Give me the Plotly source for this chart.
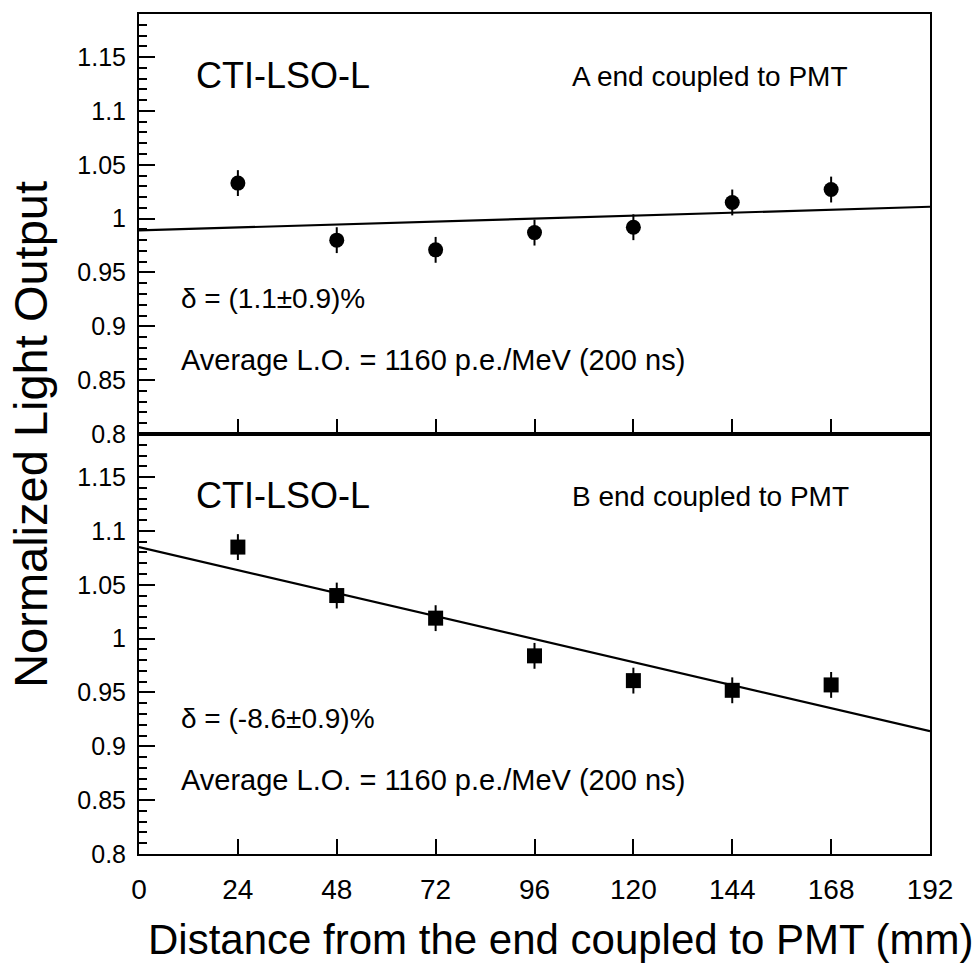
import plotly.graph_objects as go

# ---- data ----
distance = [24, 48, 72, 96, 120, 144, 168]
lo_a_end = [1.033, 0.980, 0.971, 0.987, 0.992, 1.015, 1.027]
err_a_end = [0.012, 0.012, 0.012, 0.012, 0.012, 0.012, 0.012]
lo_b_end = [1.085, 1.040, 1.019, 0.984, 0.961, 0.952, 0.957]
err_b_end = [0.012, 0.012, 0.012, 0.012, 0.012, 0.012, 0.012]
fit_x = [0, 192]
fit_a_end = [0.989, 1.011]
fit_b_end = [1.085, 0.914]
x_ticks = [0, 24, 48, 72, 96, 120, 144, 168, 192]
y_ticks = [0.8, 0.85, 0.9, 0.95, 1.0, 1.05, 1.1, 1.15]
y_tick_text = ["0.8", "0.85", "0.9", "0.95", "1", "1.05", "1.1", "1.15"]
label_a = ["CTI-LSO-L", "A end coupled to PMT", "δ = (1.1±0.9)%", "Average L.O. = 1160 p.e./MeV (200 ns)"]
label_b = ["CTI-LSO-L", "B end coupled to PMT", "δ = (-8.6±0.9)%", "Average L.O. = 1160 p.e./MeV (200 ns)"]

FONT = "Liberation Sans, Arial, Helvetica, sans-serif"

fig = go.Figure()

# top panel
fig.add_trace(go.Scatter(x=fit_x, y=fit_a_end, mode="lines", line=dict(color="black", width=2.2),
                         xaxis="x", yaxis="y", showlegend=False))
fig.add_trace(go.Scatter(x=distance, y=lo_a_end, mode="markers",
                         marker=dict(symbol="circle", size=15, color="black"),
                         error_y=dict(type="data", array=err_a_end, visible=True, color="black", thickness=2, width=0),
                         xaxis="x", yaxis="y", showlegend=False))
# bottom panel
fig.add_trace(go.Scatter(x=fit_x, y=fit_b_end, mode="lines", line=dict(color="black", width=2.2),
                         xaxis="x2", yaxis="y2", showlegend=False))
fig.add_trace(go.Scatter(x=distance, y=lo_b_end, mode="markers",
                         marker=dict(symbol="square", size=15, color="black"),
                         error_y=dict(type="data", array=err_b_end, visible=True, color="black", thickness=2, width=0),
                         xaxis="x2", yaxis="y2", showlegend=False))

common_x = dict(range=[0, 192], tickmode="array", tickvals=x_ticks, ticks="inside", ticklen=15,
                tickwidth=1.5, tickcolor="black", showline=True, linewidth=2, linecolor="black",
                mirror=True, showgrid=False, zeroline=False, fixedrange=True)
common_y = dict(range=[0.8, 1.19], tickmode="array", tickvals=y_ticks, ticktext=y_tick_text,
                ticks="inside", ticklen=16, tickwidth=1.5, tickcolor="black",
                minor=dict(ticks="inside", ticklen=8, tickwidth=1.5, tickcolor="black", dtick=0.01, tick0=0.8,
                           showgrid=False),
                showline=True, linewidth=2, linecolor="black", mirror=True, showgrid=False, zeroline=False,
                tickfont=dict(size=25, color="black", family=FONT), ticklabelstandoff=6)

annotations = []
for labels, xr, yr in [(label_a, "x", "y"), (label_b, "x2", "y2")]:
    annotations += [
        dict(text=labels[0], x=13.4, y=1.133, xref=xr, yref=yr, xanchor="left", yanchor="middle",
             showarrow=False, font=dict(size=36, color="black", family=FONT)),
        dict(text=labels[1], x=104.5, y=1.132, xref=xr, yref=yr, xanchor="left", yanchor="middle",
             showarrow=False, font=dict(size=28, color="black", family=FONT)),
        dict(text=labels[2], x=9.8, y=0.926, xref=xr, yref=yr, xanchor="left", yanchor="middle",
             showarrow=False, font=dict(size=28, color="black", family=FONT)),
        dict(text=labels[3], x=9.8, y=0.869, xref=xr, yref=yr, xanchor="left", yanchor="middle",
             showarrow=False, font=dict(size=29, color="black", family=FONT)),
    ]
annotations.append(dict(text="Normalized Light Output", x=-0.138, y=0.5, xref="paper", yref="paper",
                        xanchor="center", yanchor="middle", textangle=-90, showarrow=False,
                        font=dict(size=47, color="black", family=FONT)))
annotations.append(dict(text="Distance from the end coupled to PMT (mm)", x=0.5335, y=-0.102,
                        xref="paper", yref="paper", xanchor="center", yanchor="middle", showarrow=False,
                        font=dict(size=42, color="black", family=FONT)))

fig.update_layout(
    width=977, height=970,
    margin=dict(l=139, r=47, t=12, b=116),
    paper_bgcolor="white", plot_bgcolor="white",
    font=dict(family=FONT, color="black"),
    xaxis=dict(common_x, anchor="y", domain=[0, 1], showticklabels=False),
    yaxis=dict(common_y, anchor="x", domain=[0.5, 1]),
    xaxis2=dict(common_x, anchor="y2", domain=[0, 1], showticklabels=True,
                tickfont=dict(size=28, color="black", family=FONT), ticklabelstandoff=9),
    yaxis2=dict(common_y, anchor="x2", domain=[0, 0.5]),
    annotations=annotations,
    showlegend=False,
)

fig.write_html("out.html")
